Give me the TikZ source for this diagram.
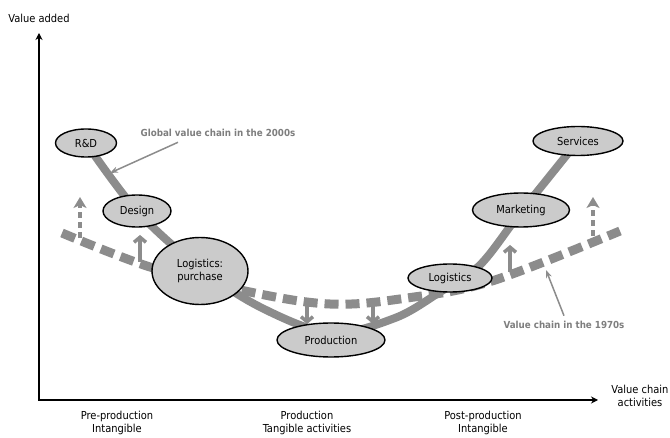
\documentclass[tikz,border=0pt]{standalone}
\usepackage{fontspec}
\setmainfont{DejaVu Sans Condensed}
\usetikzlibrary{arrows.meta,shapes.geometric}
\definecolor{lgray}{HTML}{8C8C8C}
\definecolor{efill}{HTML}{CBCBCB}
\definecolor{tgray}{HTML}{7E7E7E}
\tikzset{
  act/.style={ellipse,draw=black,line width=1.4pt,fill=efill,inner sep=0pt,font=\fontsize{11}{13}\selectfont,align=center},
  chain2000/.style={draw=lgray,line width=8pt},
  chain1970/.style={draw=lgray,line width=9pt,dash pattern=on 14pt off 7pt},
  chev/.style={draw=lgray,line width=3.5pt,-{Straight Barb[length=5pt,width=12pt]}},
  fillarr/.style={draw=lgray,line width=3.5pt,dash pattern=on 6pt off 4pt,-{Stealth[length=11pt,width=13pt,inset=3pt]}},
  axis/.style={draw=black,line width=1.6pt,-{Stealth[length=7pt,width=7pt]}},
  lbl/.style={font=\fontsize{11}{13}\selectfont,align=center},
  glbl/.style={font=\bfseries\fontsize{9.7}{11}\selectfont,text=tgray},
  pointer/.style={draw=lgray,line width=1.5pt,-{Stealth[length=8pt,width=6pt]}}
}
\begin{document}
\begin{tikzpicture}[x=1pt,y=-1pt]
\path[use as bounding box,fill=white] (0,0) rectangle (670,438);
% axes
\coordinate (origin) at (39,400);
\coordinate (ytip) at (39,33);
\coordinate (xtip) at (598,400);
\draw[axis] ([yshift=-0.8pt]origin) -- (ytip);
\draw[axis] ([xshift=-0.8pt]origin) -- (xtip);
\node[lbl] (yl) at (39,18) {Value added};
\node[lbl] (xl) at (640,396) {Value chain\\activities};
\node[lbl] (pre) at (117,423) {Pre-production\\Intangible};
\node[lbl] (mid) at (307,423) {Production\\Tangible activities};
\node[lbl] (post) at (483,423) {Post-production\\Intangible};
% 1970s dashed chain
\draw[chain1970] plot[smooth,tension=0.6] coordinates {(62,233) (150,267) (245,291) (330,304) (407,298) (492,281) (620,231)};
% 2000s chain
\draw[chain2000,line cap=round] plot[smooth,tension=0.55] coordinates {(86,143) (137,211) (200,268) (262,308) (331,333) (395,318) (440,292) (480,265) (521,212) (578,141)};
% small arrows
\coordinate (a1s) at (80,238); \coordinate (a1e) at (80,197);
\coordinate (a2s) at (140,262); \coordinate (a2e) at (140,235);
\coordinate (a3s) at (307,300); \coordinate (a3e) at (307,324);
\coordinate (a4s) at (373,300); \coordinate (a4e) at (373,324);
\coordinate (a5s) at (510,272); \coordinate (a5e) at (510,245);
\coordinate (a6s) at (593,236); \coordinate (a6e) at (593,197);
\draw[fillarr] (a1s) -- (a1e);
\draw[fillarr] (a6s) -- (a6e);
\draw[chev] (a2s) -- (a2e);
\draw[chev] (a3s) -- (a3e);
\draw[chev] (a4s) -- (a4e);
\draw[chev] (a5s) -- (a5e);
% activities
\node[act,minimum width=61pt,minimum height=28pt] (rd) at (86,143) {R\&D};
\node[act,minimum width=68pt,minimum height=32pt] (design) at (137,211) {Design};
\node[act,minimum width=96pt,minimum height=67pt] (logp) at (200,271) {Logistics:\\purchase};
\node[act,minimum width=108pt,minimum height=34pt] (prod) at (331,340) {Production};
\node[act,minimum width=84pt,minimum height=28pt] (logr) at (450,278) {Logistics};
\node[act,minimum width=97pt,minimum height=34pt] (mkt) at (521,210) {Marketing};
\node[act,minimum width=90pt,minimum height=29pt] (serv) at (578,141) {Services};
% annotations
\node[glbl] (g2000) at (218,133) {Global value chain in the 2000s};
\node[glbl] (g1970) at (564,325) {Value chain in the 1970s};
\coordinate (p2000) at (110,173);
\coordinate (p1970) at (546,270);
\draw[pointer] ([xshift=-40pt,yshift=-2pt]g2000.south) -- (p2000);
\draw[pointer] ([yshift=2pt]g1970.north) -- (p1970);
\end{tikzpicture}
\end{document}
